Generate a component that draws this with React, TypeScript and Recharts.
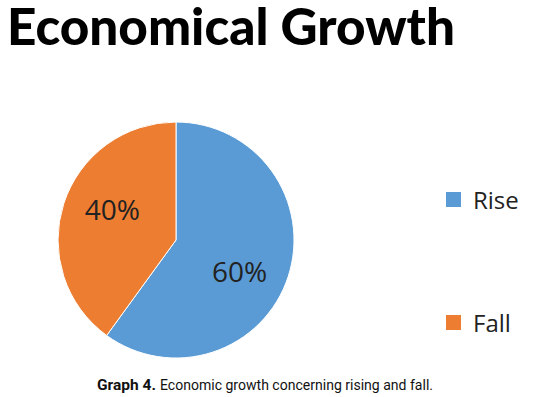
import React from 'react';
import { PieChart, Pie, Cell, Legend } from 'recharts';

// slice data
const categories = ['Rise', 'Fall'];
const shares = [60, 40];
const sliceColors = ['#5B9BD5', '#ED7D31'];

const titleText = 'Economical Growth';
const captionLead = 'Graph 4.';
const captionRest = 'Economic growth concerning rising and fall.';

const chartData = categories.map((name, i) => ({ name, value: shares[i] }));

const RADIAN = Math.PI / 180;
const labelAngleShift = -8;

const renderSliceLabel = (props: any) => {
  const { cx, cy, midAngle, outerRadius, percent } = props;
  const r = outerRadius * 0.6;
  const a = (midAngle + labelAngleShift) * RADIAN;
  const x = cx + r * Math.cos(a);
  const y = cy - r * Math.sin(a);
  return (
    <text
      x={x}
      y={y}
      fill="#222"
      fontFamily="'Open Sans', sans-serif"
      fontSize={28}
      textAnchor="middle"
      dominantBaseline="central"
    >
      {`${Math.round(percent * 100)}%`}
    </text>
  );
};

// keep legend in the data order (Rise first), not alphabetical
const renderLegend = (props: any) => {
  const payload = [...(props.payload || [])].sort(
    (a: any, b: any) => categories.indexOf(a.value) - categories.indexOf(b.value)
  );
  return (
    <div style={{ fontFamily: "'Open Sans', sans-serif" }}>
      {payload.map((entry: any, i: number) => (
        <div
          key={entry.value}
          style={{ display: 'flex', alignItems: 'center', height: 30, marginBottom: i === 0 ? 93 : 0 }}
        >
          <span style={{ width: 15, height: 15, background: entry.color, display: 'inline-block', marginRight: 12 }} />
          <span style={{ fontSize: 24, color: '#222' }}>{entry.value}</span>
        </div>
      ))}
    </div>
  );
};

export default function App() {
  return (
    <div style={{ position: 'absolute', left: 0, top: 0, width: 540, height: 397, background: '#fff' }}>
      <svg width={540} height={397} style={{ position: 'absolute', left: 0, top: 0 }}>
        <text
          x={7}
          y={45}
          fontFamily="Lato, sans-serif"
          fontWeight={900}
          fontSize={52}
          fill="#000"
          textLength={448}
          lengthAdjust="spacingAndGlyphs"
        >
          {titleText}
        </text>
        <text
          x={97}
          y={390}
          fontFamily="Roboto, sans-serif"
          fontWeight="bold"
          fontSize={14}
          fill="#111"
          textLength={59}
          lengthAdjust="spacingAndGlyphs"
        >
          {captionLead}
        </text>
        <text
          x={160}
          y={390}
          fontFamily="Roboto, sans-serif"
          fontSize={14}
          fill="#111"
          textLength={273}
          lengthAdjust="spacingAndGlyphs"
        >
          {captionRest}
        </text>
      </svg>
      <div style={{ position: 'absolute', left: 0, top: 0 }}>
        <PieChart width={540} height={397} margin={{ top: 0, right: 0, bottom: 0, left: 0 }}>
          <Pie
            data={chartData}
            dataKey="value"
            nameKey="name"
            cx={176}
            cy={240}
            outerRadius={118}
            startAngle={90}
            endAngle={-270}
            stroke="#fff"
            strokeWidth={1}
            labelLine={false}
            label={renderSliceLabel}
            isAnimationActive={false}
          >
            {chartData.map((d, i) => (
              <Cell key={d.name} fill={sliceColors[i]} />
            ))}
          </Pie>
          <Legend
            layout="vertical"
            content={renderLegend}
            wrapperStyle={{ position: 'absolute', left: 446, top: 184, width: 100 }}
          />
        </PieChart>
      </div>
    </div>
  );
}
